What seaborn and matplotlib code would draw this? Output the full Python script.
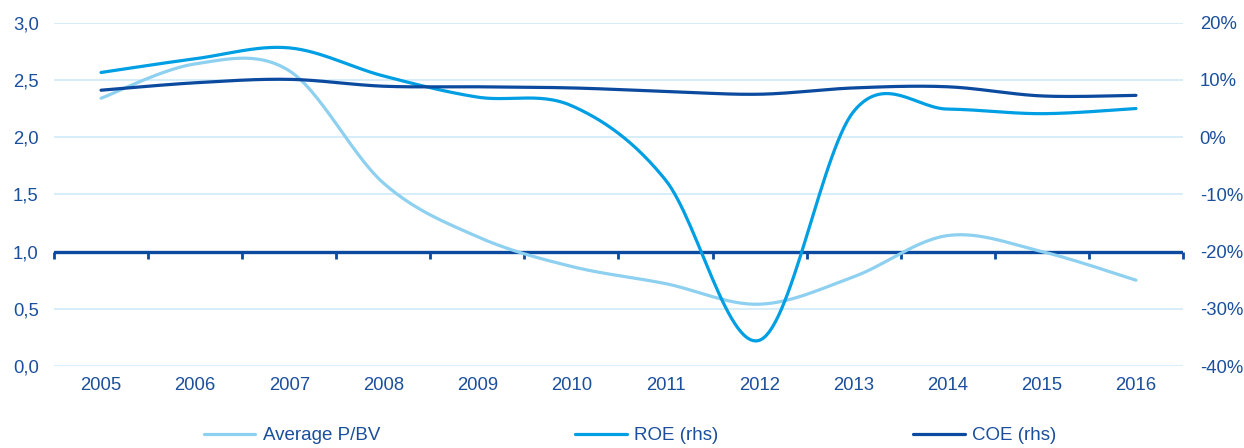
import numpy as np
import pandas as pd
import matplotlib
matplotlib.use("Agg")
import matplotlib.pyplot as plt
from matplotlib.ticker import FuncFormatter
import seaborn as sns

# data
years = ["2005", "2006", "2007", "2008", "2009", "2010",
         "2011", "2012", "2013", "2014", "2015", "2016"]
pbv = [2.34, 2.64, 2.58, 1.60, 1.13, 0.87, 0.72, 0.54, 0.78, 1.14, 1.00, 0.75]
roe = [11.3, 13.7, 15.6, 10.7, 7.0, 5.5, -7.5, -35.5, 4.5, 4.9, 4.1, 5.0]
coe = [8.2, 9.5, 10.1, 8.9, 8.8, 8.6, 8.0, 7.5, 8.6, 8.8, 7.2, 7.3]

left_ticks = [0.0, 0.5, 1.0, 1.5, 2.0, 2.5, 3.0]
right_ticks = [-40, -30, -20, -10, 0, 10, 20]

TEXT = "#1B4F9C"
C_PBV = "#8ED0F0"
C_ROE = "#009FE3"
C_COE = "#0B4A9E"
GRID = "#CFEAF8"


def smooth(vals, n=30):
    # Excel-style smoothed line (Catmull-Rom through the points)
    x = np.arange(len(vals), dtype=float)
    y = np.asarray(vals, dtype=float)
    xs, ys = [], []
    for i in range(len(y) - 1):
        p0 = i - 1 if i > 0 else i
        p3 = i + 2 if i + 2 < len(y) else i + 1
        b0x, b0y = x[i], y[i]
        b3x, b3y = x[i + 1], y[i + 1]
        b1x = b0x + (x[i + 1] - x[p0]) / 6
        b1y = b0y + (y[i + 1] - y[p0]) / 6
        b2x = b3x - (x[p3] - x[i]) / 6
        b2y = b3y - (y[p3] - y[i]) / 6
        t = np.linspace(0, 1, n, endpoint=False)
        xs.append((1-t)**3*b0x + 3*(1-t)**2*t*b1x + 3*(1-t)*t**2*b2x + t**3*b3x)
        ys.append((1-t)**3*b0y + 3*(1-t)**2*t*b1y + 3*(1-t)*t**2*b2y + t**3*b3y)
    xs.append([x[-1]])
    ys.append([y[-1]])
    return pd.DataFrame({"x": np.concatenate(xs), "y": np.concatenate(ys)})


sns.set_theme(style="white")
plt.rcParams["font.family"] = ["Liberation Sans", "DejaVu Sans"]

fig = plt.figure(figsize=(12.44, 4.48), dpi=100)
ax = fig.add_axes([54/1244, 1 - 366/448, (1183-54)/1244, (366-22.7)/448])
ax2 = ax.twinx()

sns.lineplot(data=smooth(pbv), x="x", y="y", ax=ax, color=C_PBV, lw=2.3,
             sort=False, estimator=None, label="Average P/BV", legend=False)
sns.lineplot(data=smooth(roe), x="x", y="y", ax=ax2, color=C_ROE, lw=2.3,
             sort=False, estimator=None, label="ROE (rhs)", legend=False)
sns.lineplot(data=smooth(coe), x="x", y="y", ax=ax2, color=C_COE, lw=2.3,
             sort=False, estimator=None, label="COE (rhs)", legend=False)

n = len(years)
ax.set_xlim(-0.5, n - 0.5)
ax.set_ylim(0, 3)
ax2.set_ylim(-40, 20)

ax.set_yticks(left_ticks)
ax.yaxis.set_major_formatter(FuncFormatter(lambda v, p: f"{v:.1f}".replace(".", ",")))
ax2.set_yticks(right_ticks)
ax2.yaxis.set_major_formatter(FuncFormatter(lambda v, p: f"{v:.0f}%"))

ax.set_xticks(range(n))
ax.set_xticklabels(years)
ax.set_xlabel("")
ax.set_ylabel("")
ax2.set_ylabel("")

ax.grid(axis="y", color=GRID, lw=1.2)
ax.set_axisbelow(True)
for a in (ax, ax2):
    for s in a.spines.values():
        s.set_visible(False)
    a.tick_params(length=0, labelsize=13.3, labelcolor=TEXT)
ax.tick_params(axis="y", pad=11)
ax2.tick_params(axis="y", pad=12)
ax.tick_params(axis="x", pad=8)

# category axis drawn at the 1,0 level with ticks between categories
ax.axhline(1.0, color=C_COE, lw=2.4, zorder=1.5)
sec = ax.secondary_xaxis(1/3)
sec.set_xticks(np.arange(-0.5, n, 1.0))
sec.tick_params(which="both", bottom=True, top=False, labelbottom=False,
                labeltop=False, direction="out", length=5, width=2, color=C_COE)
for s in sec.spines.values():
    s.set_visible(False)

h1, l1 = ax.get_legend_handles_labels()
h2, l2 = ax2.get_legend_handles_labels()
fig.legend(h1 + h2, l1 + l2, loc="center", bbox_to_anchor=(0.5065, 0.027),
           ncol=3, frameon=False, fontsize=13.5, labelcolor=TEXT,
           handlelength=2.75, handletextpad=0.4, columnspacing=10.4)

plt.savefig("out.png", dpi=100)
